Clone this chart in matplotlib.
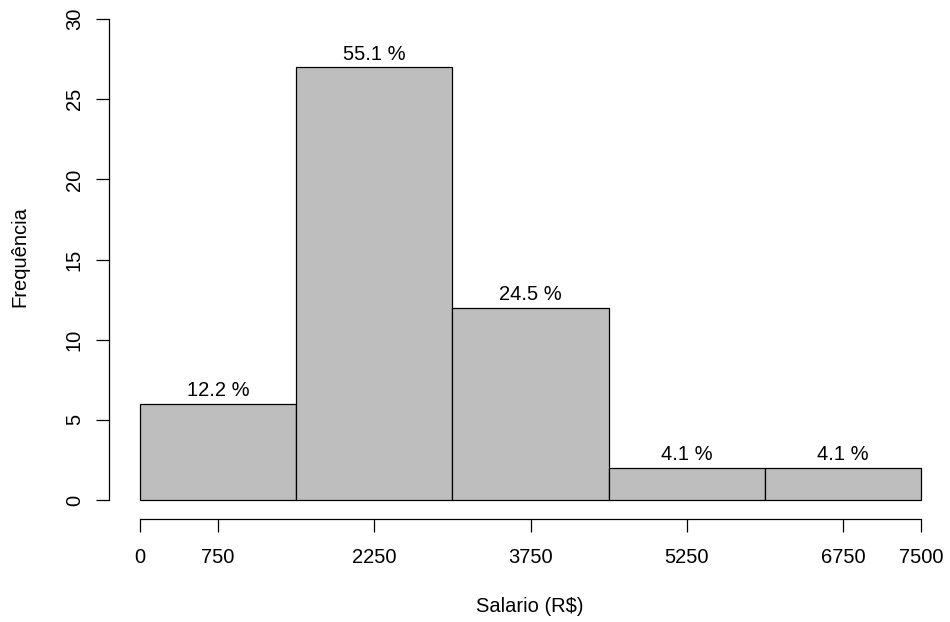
import matplotlib
matplotlib.use('Agg')
import matplotlib.pyplot as plt
import numpy as np

plt.rcParams['font.family'] = ['Liberation Sans', 'DejaVu Sans']

# dados do histograma
breaks = [0, 1500, 3000, 4500, 6000, 7500]
counts = [6, 27, 12, 2, 2]
pct_labels = ['12.2 %', '55.1 %', '24.5 %', '4.1 %', '4.1 %']
x_ticks = [0, 750, 2250, 3750, 5250, 6750, 7500]
y_ticks = [0, 5, 10, 15, 20, 25, 30]

W, H = 950, 622
fs = 14.5
fig = plt.figure(figsize=(W / 100, H / 100), dpi=100)
# regiao do plot em pixels (estilo R, 4% de folga)
left_px, bottom_px = 108.8, 519.2
ax = fig.add_axes([left_px / W, (H - bottom_px) / H, 843.5 / W, bottom_px / H])

lefts = np.array(breaks[:-1])
widths = np.diff(breaks)
ax.bar(lefts, counts, width=widths, align='edge', color='#bebebe',
       edgecolor='black', linewidth=0.9)

for xl, w, c, lab in zip(lefts, widths, counts, pct_labels):
    ax.annotate(lab, (xl + w / 2, c), xytext=(0, 9.5), textcoords='offset points',
                ha='center', va='center', fontsize=fs)

ax.set_xlim(-300, 7800)
ax.set_ylim(-1.2, 31.2)

for s in ['top', 'right']:
    ax.spines[s].set_visible(False)
ax.spines['left'].set_bounds(0, 30)
ax.spines['bottom'].set_bounds(0, 7500)
ax.spines['left'].set_linewidth(0.9)
ax.spines['bottom'].set_linewidth(0.9)

ax.set_xticks(x_ticks)
ax.set_xticklabels([str(t) for t in x_ticks])
ax.set_yticks(y_ticks)
ax.set_yticklabels([str(t) for t in y_ticks], rotation=90, va='center')
ax.tick_params(axis='both', direction='out', length=9.4, width=0.9,
               labelsize=fs, colors='black')
ax.tick_params(axis='x', pad=11.5)
ax.tick_params(axis='y', pad=8.5)

fig.text(530 / W, 1 - 607 / H, 'Salario (R$)', ha='center', va='center', fontsize=fs)
fig.text(20 / W, 1 - 257 / H, 'Frequência', ha='center', va='center',
         rotation=90, fontsize=fs)

fig.savefig('out.png', dpi=100)
